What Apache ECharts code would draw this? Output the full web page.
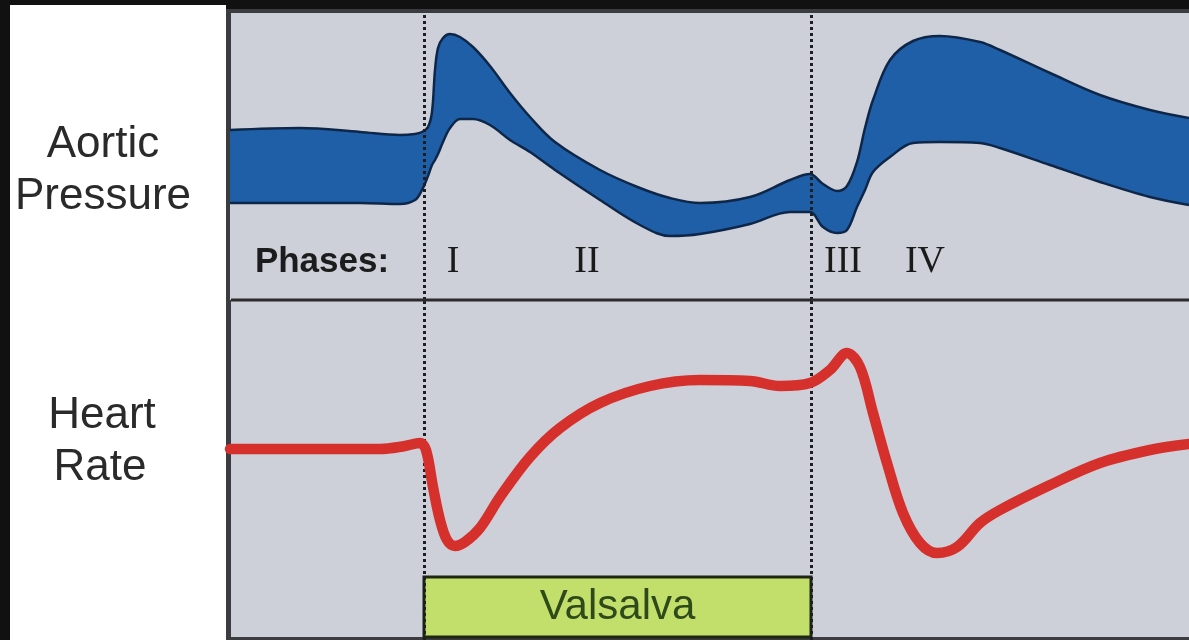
<!DOCTYPE html>
<html>
<head>
<meta charset="utf-8">
<script src="https://cdn.jsdelivr.net/npm/echarts@6/dist/echarts.min.js"></script>
<style>
html,body{margin:0;padding:0;background:#111;}
#c{width:1189px;height:640px;}
</style>
</head>
<body>
<div id="c"></div>
<script>
// time axis (arbitrary units across the recording)
const pressureTime = [0,70,130,170,185,192,198,202,205,208,213,220,230,243,260,280,300,325,370,410,440,470,520,560,580,593,607,617,627,635,643,660,683,710,750,770,820,870,920,959];
// aortic pressure envelope (systolic = upper, diastolic = lower), arbitrary units
const pressureUpper = [170,172,168,165,166,168,173,188,230,252,262,266,263,253,234,207,183,158,130,112,102,97,103,120,126,116,109,114,138,172,200,240,259,264,258,250,227,205,190,182];
const pressureLower = [97,97,97,96,100,110,124,135,140,146,158,172,181,181,175,160,148,130,100,75,64,66,76,88,88,73,67,70,93,110,128,143,157,158,157,152,135,118,103,95];
// heart rate trace
const hrTime  = [0,70,150,175,190,196,203,210,217,225,235,250,270,300,330,370,420,470,520,550,580,600,617,630,643,657,673,690,707,727,750,770,820,870,920,959];
const hrValue = [191,191,191,194,197,190,153,120,100,94,98,112,143,183,212,237,254,260,259,254,257,270,287,273,227,177,127,97,87,93,117,130,155,177,190,196];
// phase markers
const phaseNames = ['Phases:','I','II','III','IV'];
const phaseTimes = [92,223,357,613,695];
const valsalvaStart = 194, valsalvaEnd = 581;
const rowLabels = [['Aortic','Pressure'],['Heart','Rate']];

const chart = echarts.init(document.getElementById('c'), null, {renderer:'canvas'});

const PANEL = '#cdd0d9';
const dotted = {symbol:'none', silent:true, label:{show:false},
  lineStyle:{type:[3,3], width:3, color:'#1e1e22'},
  data:[{xAxis:valsalvaStart},{xAxis:valsalvaEnd}]};
const labelFont = '44px "Liberation Sans", Arial, sans-serif';

const option = {
  animation:false,
  backgroundColor:'#111111',
  graphic:[
    {type:'rect', z:-20, shape:{x:10,y:5,width:216,height:635}, style:{fill:'#ffffff'}},
    {type:'rect', z:-20, shape:{x:226,y:9,width:963,height:631}, style:{fill:'#3a3c40'}},
    {type:'rect', z:-19, shape:{x:231,y:13,width:958,height:624}, style:{fill:PANEL}},
    {type:'line', z:50, shape:{x1:231,y1:300,x2:1189,y2:300}, style:{stroke:'#2b2b2e', lineWidth:3}},
    {type:'text', z:50, x:103, y:145, style:{text:rowLabels[0][0], font:labelFont, fill:'#2a2a2a', align:'center', verticalAlign:'middle'}},
    {type:'text', z:50, x:103, y:197, style:{text:rowLabels[0][1], font:labelFont, fill:'#2a2a2a', align:'center', verticalAlign:'middle'}},
    {type:'text', z:50, x:102, y:416, style:{text:rowLabels[1][0], font:labelFont, fill:'#2a2a2a', align:'center', verticalAlign:'middle'}},
    {type:'text', z:50, x:100, y:468, style:{text:rowLabels[1][1], font:labelFont, fill:'#2a2a2a', align:'center', verticalAlign:'middle'}}
  ],
  grid:[
    {left:230, top:12, width:959, height:288, show:false},
    {left:230, top:300, width:959, height:340, show:false}
  ],
  xAxis:[
    {type:'value', gridIndex:0, min:0, max:959, show:false},
    {type:'value', gridIndex:1, min:0, max:959, show:false}
  ],
  yAxis:[
    {type:'value', gridIndex:0, min:0, max:288, show:false},
    {type:'value', gridIndex:1, min:0, max:340, show:false}
  ],
  series:[
    {type:'line', name:'systolic', xAxisIndex:0, yAxisIndex:0, z:2,
     smooth:0.35, symbol:'none',
     lineStyle:{color:'#0e2748', width:2.5},
     areaStyle:{color:'#1f5fa8', opacity:1, origin:'start'},
     data: pressureTime.map((t,i)=>[t, pressureUpper[i]])},
    {type:'line', name:'diastolic', xAxisIndex:0, yAxisIndex:0, z:3,
     smooth:0.35, symbol:'none',
     lineStyle:{color:'#0e2748', width:2.5},
     areaStyle:{color:PANEL, opacity:1, origin:'start'},
     data: pressureTime.map((t,i)=>[t, pressureLower[i]])},
    {type:'scatter', xAxisIndex:0, yAxisIndex:0, symbolSize:1, z:10,
     itemStyle:{color:PANEL, opacity:1},
     label:{show:true, position:'inside', formatter:p=>p.data.name, textBorderWidth:0, opacity:1,
            fontFamily:'"Liberation Serif", "Times New Roman", serif', fontSize:38, color:'#1a1a1a'},
     data: phaseNames.map((n,i)=> i===0
        ? {name:n, value:[phaseTimes[i],38], label:{fontFamily:'"Liberation Sans", Arial, sans-serif', fontWeight:'bold', fontSize:35, color:'#1c1c1c'}}
        : {name:n, value:[phaseTimes[i],38]}),
     markLine: dotted},
    {type:'line', name:'hr', xAxisIndex:1, yAxisIndex:1, z:5,
     smooth:0.35, symbol:'none',
     lineStyle:{color:'#d6302c', width:10.5, cap:'round', join:'round'},
     data: hrTime.map((t,i)=>[t, hrValue[i]]),
     markLine: dotted,
     markArea:{silent:true,
       itemStyle:{color:'#c3df6b', borderColor:'#1d2612', borderWidth:3},
       label:{show:true, position:'inside', formatter:'Valsalva', fontSize:42,
              fontFamily:'"Liberation Sans", Arial, sans-serif', color:'#2f4a1a'},
       data:[[{xAxis:valsalvaStart, yAxis:3},{xAxis:valsalvaEnd, yAxis:63}]]}}
  ]
};
chart.setOption(option);
</script>
</body>
</html>
